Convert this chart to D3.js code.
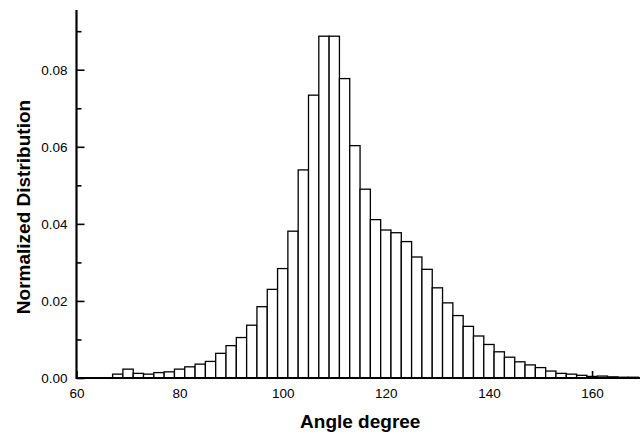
<!DOCTYPE html>
<html>
<head>
<meta charset="utf-8">
<script src="https://cdn.jsdelivr.net/npm/d3@7"></script>
<style>
  html, body { margin: 0; padding: 0; background: #fff; }
  svg { display: block; }
  text { font-family: "Liberation Sans", Arial, Helvetica, sans-serif; fill: #000; }
</style>
</head>
<body>
<svg id="chart" width="640" height="434"></svg>
<script>
// Bin centres (degrees), each bin is 2 degrees wide
const angles = [68, 70, 72, 74, 76, 78, 80, 82, 84, 86, 88, 90, 92, 94, 96, 98,
  100, 102, 104, 106, 108, 110, 112, 114, 116, 118, 120, 122, 124, 126, 128, 130,
  132, 134, 136, 138, 140, 142, 144, 146, 148, 150, 152, 154, 156, 158, 160, 162,
  164, 166, 168];
const distribution = [0.0010, 0.0023, 0.0012, 0.0010, 0.0014, 0.0016, 0.0023, 0.0029,
  0.0036, 0.0043, 0.0064, 0.0084, 0.0105, 0.0137, 0.0185, 0.0230,
  0.0284, 0.0381, 0.0540, 0.0734, 0.0887, 0.0887, 0.0777, 0.0603,
  0.0490, 0.0411, 0.0384, 0.0377, 0.0354, 0.0314, 0.0282, 0.0234,
  0.0195, 0.0162, 0.0134, 0.0109, 0.0087, 0.0068, 0.0054, 0.0042,
  0.0034, 0.0027, 0.0018, 0.0012, 0.0010, 0.0007, 0.0004, 0.0005,
  0.0003, 0.0002, 0.0002];
const binWidth = 2;

const xTicks = [60, 80, 100, 120, 140, 160];
const yTicks = [0.00, 0.02, 0.04, 0.06, 0.08];
const yMinorTicks = [0.01, 0.03, 0.05, 0.07, 0.09];

const xTitle = "Angle degree";
const yTitle = "Normalized Distribution";

const svg = d3.select("#chart");
const plotLeft = 76.5, plotRight = 640, plotTop = 10, plotBottom = 378;

const x = d3.scaleLinear().domain([60, 169.3]).range([plotLeft, plotRight]);
const y = d3.scaleLinear().domain([0, 0.0955]).range([plotBottom, plotTop]);

// Axes (ticks point into the plot)
const xAxis = d3.axisBottom(x).tickValues(xTicks).tickFormat(d3.format("d"))
  .tickSizeInner(-7).tickSizeOuter(0).tickPadding(10);
const yAxis = d3.axisLeft(y).tickValues(yTicks).tickFormat(d3.format(".2f"))
  .tickSizeInner(-8).tickSizeOuter(0).tickPadding(9);
const yMinor = d3.axisLeft(y).tickValues(yMinorTicks).tickFormat("")
  .tickSizeInner(-5).tickSizeOuter(0);

const gx = svg.append("g").attr("transform", `translate(0,${plotBottom})`).call(xAxis);
const gy = svg.append("g").attr("transform", `translate(${plotLeft},0)`).call(yAxis);
const gym = svg.append("g").attr("transform", `translate(${plotLeft},0)`).call(yMinor);

[gx, gy, gym].forEach(g => {
  g.select(".domain").remove();
  g.selectAll(".tick line").attr("stroke", "#000").attr("stroke-width", 1.6);
  g.selectAll(".tick text").attr("font-size", 13.5).attr("fill", "#000");
});

// Histogram bars
svg.append("g").selectAll("rect")
  .data(angles.map((a, i) => ({ a, v: distribution[i] })))
  .join("rect")
  .attr("x", d => x(d.a - binWidth / 2))
  .attr("width", d => x(d.a + binWidth / 2) - x(d.a - binWidth / 2))
  .attr("y", d => y(d.v))
  .attr("height", d => y(0) - y(d.v))
  .attr("fill", "#fff")
  .attr("stroke", "#000")
  .attr("stroke-width", 1.3);

// Axis spines
svg.append("line")
  .attr("x1", plotLeft).attr("x2", plotRight).attr("y1", plotBottom).attr("y2", plotBottom)
  .attr("stroke", "#000").attr("stroke-width", 2.2);
svg.append("line")
  .attr("x1", plotLeft).attr("x2", plotLeft).attr("y1", plotTop).attr("y2", plotBottom + 1.1)
  .attr("stroke", "#000").attr("stroke-width", 2.2);

// Titles
svg.append("text")
  .attr("x", (plotLeft + plotRight) / 2 + 2).attr("y", 428)
  .attr("text-anchor", "middle")
  .attr("font-size", 19).attr("font-weight", "bold")
  .text(xTitle);
svg.append("text")
  .attr("transform", `translate(30,207) rotate(-90)`)
  .attr("text-anchor", "middle")
  .attr("font-size", 19).attr("font-weight", "bold")
  .text(yTitle);
</script>
</body>
</html>
